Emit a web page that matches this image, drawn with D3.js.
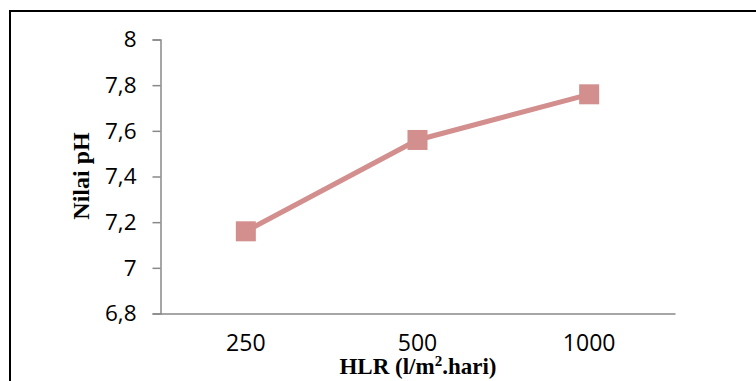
<!DOCTYPE html>
<html>
<head>
<meta charset="utf-8">
<script src="https://cdn.jsdelivr.net/npm/d3@7"></script>
<style>
  html, body { margin: 0; padding: 0; background: #fff; }
  svg { display: block; }
</style>
</head>
<body>
<div id="chart"></div>
<script>
// data
const categories = ['250', '500', '1000']
const phValues = [7.16, 7.56, 7.76]
const yTicks = [6.8, 7, 7.2, 7.4, 7.6, 7.8, 8]

const width = 756
const height = 381
const lineColor = '#d38e8e'
const axisColor = '#898989'

const svg = d3.select('#chart').append('svg')
    .attr('width', width)
    .attr('height', height)

svg.append('rect')
    .attr('width', width)
    .attr('height', height)
    .attr('fill', '#fff')

// outer frame (runs past the right and bottom edge like the picture)
svg.append('rect')
    .attr('x', 10)
    .attr('y', 11)
    .attr('width', 800)
    .attr('height', 420)
    .attr('fill', 'none')
    .attr('stroke', '#000')
    .attr('stroke-width', 2)

const x = d3.scaleBand()
    .domain(categories)
    .range([160, 675])

const y = d3.scaleLinear()
    .domain([6.8, 8])
    .range([313.5, 39.5])

// y axis
const yAxis = svg.append('g')
    .attr('transform', 'translate(160.5,0)')
    .call(d3.axisLeft(y)
        .tickValues(yTicks)
        .tickSize(8)
        .tickPadding(16)
        .tickFormat(d => String(d).replace('.', ',')))
yAxis.select('.domain').attr('stroke', axisColor).attr('stroke-width', 1.5)
yAxis.selectAll('.tick line').attr('stroke', axisColor).attr('stroke-width', 1.5)
yAxis.selectAll('.tick text')
    .attr('fill', '#000')
    .style('font-family', '"Open Sans", sans-serif')
    .style('font-size', '22.5px')

// x axis
const xAxis = svg.append('g')
    .attr('transform', 'translate(0,313.5)')
    .call(d3.axisBottom(x).tickSize(0).tickPadding(21))
xAxis.select('.domain').attr('stroke', axisColor).attr('stroke-width', 1.5)
xAxis.selectAll('.tick text')
    .attr('fill', '#000')
    .style('font-family', '"Open Sans", sans-serif')
    .style('font-size', '23px')

// line + square markers
const line = d3.line()
    .x((d, i) => x(categories[i]) + x.bandwidth() / 2)
    .y(d => y(d))

svg.append('path')
    .datum(phValues)
    .attr('d', line)
    .attr('fill', 'none')
    .attr('stroke', lineColor)
    .attr('stroke-width', 5)

svg.selectAll('.marker')
    .data(phValues)
    .enter().append('rect')
    .attr('class', 'marker')
    .attr('x', (d, i) => x(categories[i]) + x.bandwidth() / 2 - 10)
    .attr('y', d => y(d) - 10)
    .attr('width', 20)
    .attr('height', 20)
    .attr('fill', lineColor)

// axis titles
const xTitle = svg.append('text')
    .attr('x', 418)
    .attr('y', 374)
    .attr('text-anchor', 'middle')
    .style('font-family', '"Liberation Serif", "Times New Roman", serif')
    .style('font-weight', 'bold')
    .style('font-size', '23px')
xTitle.append('tspan').text('HLR (l/m')
xTitle.append('tspan').attr('dy', -8).style('font-size', '15px').text('2')
xTitle.append('tspan').attr('dy', 8).text('.hari)')

svg.append('text')
    .attr('transform', 'translate(89,176) rotate(-90)')
    .attr('text-anchor', 'middle')
    .style('font-family', '"Liberation Serif", "Times New Roman", serif')
    .style('font-weight', 'bold')
    .style('font-size', '24px')
    .text('Nilai pH')
</script>
</body>
</html>
